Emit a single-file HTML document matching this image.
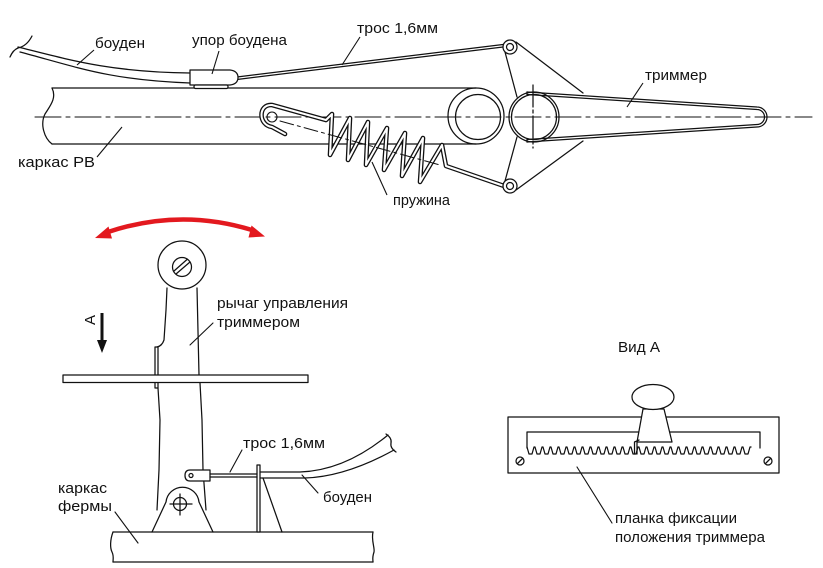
<!DOCTYPE html>
<html>
<head>
<meta charset="utf-8">
<style>
html,body{margin:0;padding:0;background:#fff;}
svg{display:block;}
text{font-family:"Liberation Sans","DejaVu Sans",sans-serif;font-size:15px;fill:#111;}
</style>
</head>
<body>
<svg width="823" height="568" viewBox="0 0 823 568" xmlns="http://www.w3.org/2000/svg">
<rect width="823" height="568" fill="#fff"/>

<!-- ============ TOP DRAWING ============ -->
<g fill="none" stroke="#111" stroke-width="1.25" stroke-linecap="round" stroke-linejoin="round">
  <line x1="35" y1="117" x2="812" y2="117" stroke-width="1.1" stroke-dasharray="26 5 4 5"/>
  <path d="M52,88 L476,88 M52,144 L476,144"/>
  <path d="M52,88 C57,98 50,106 45,114 C40,124 44,138 52,144"/>
  <circle cx="476" cy="116" r="28"/>
  <circle cx="478" cy="117" r="22.5"/>

  <circle cx="534" cy="117" r="25"/>
  <circle cx="534" cy="117" r="22.5"/>
  <line x1="533" y1="85" x2="533" y2="148" stroke-dasharray="22 3 3 3"/>
  <path d="M527,92 L757,107 A10,10 0 0 1 757,127 L527,142"/>
  <path d="M527,94.5 L757,109.5 A7.5,7.5 0 0 1 757,124.5 L527,139.5"/>
  <path d="M527,92 L527,94.5 M527,142 L527,139.5"/>

  <path d="M505,52 L517,97 M516,42 L583,93 M517,137 L505,181 M583,141 L516,190"/>

  <path d="M237,77 L503,44.5 M237,79.5 L503,47"/>

  <path d="M18,47 C70,60 110,72 190,73"/>
  <path d="M20,52 C80,68 110,80 190,83"/>
  <path d="M10,57 Q13,50 18,48 Q27,46 32,36"/>
  <path d="M190,70 L230,70 Q238,71 238,77.5 Q238,84 230,85 L190,85 Z" fill="#fff"/>
  <rect x="194" y="85" width="34" height="3.5" rx="1.5" fill="#fff"/>
</g>

<!-- hook + spring (double-line wire) -->
<g fill="none" stroke-linecap="round" stroke-linejoin="round">
  <path d="M285,134 L272,127 C258,125 258,104 272,105 L326,120 L332,114 L330,155 L350,118 L348,160 L368,122 L366,165 L387,128 L384,170 L405,133 L402,176 L423,138 L420,182 L442,145 L446,166 L507,187" stroke="#111" stroke-width="4.6"/>
  <path d="M285,134 L272,127 C258,125 258,104 272,105 L326,120 L332,114 L330,155 L350,118 L348,160 L368,122 L366,165 L387,128 L384,170 L405,133 L402,176 L423,138 L420,182 L442,145 L446,166 L507,187" stroke="#fff" stroke-width="2"/>
</g>
<g fill="none" stroke="#111" stroke-width="1.1" stroke-linecap="round">
  <circle cx="272" cy="117" r="5"/>
  <line x1="280" y1="121" x2="440" y2="165" stroke-dasharray="14 4 3 4" stroke-width="1"/>
</g>

<g fill="#fff" stroke="#111" stroke-width="1.25">
  <circle cx="510" cy="47" r="7"/>
  <circle cx="510" cy="47" r="3.5"/>
  <circle cx="510" cy="186" r="7"/>
  <circle cx="510" cy="186" r="3.5"/>
</g>

<g stroke="#111" stroke-width="1.1" fill="none">
  <path d="M77,65 L94,50"/>
  <path d="M212,74 L219,51"/>
  <path d="M342,65 L360,37"/>
  <path d="M627,107 L643,83"/>
  <path d="M97,157 L122,127"/>
  <path d="M372,162 L387,195"/>
</g>

<text x="95" y="48" textLength="50" lengthAdjust="spacingAndGlyphs">боуден</text>
<text x="192" y="45" textLength="95" lengthAdjust="spacingAndGlyphs">упор боудена</text>
<text x="357" y="33" textLength="81" lengthAdjust="spacingAndGlyphs">трос 1,6мм</text>
<text x="645" y="80" textLength="62" lengthAdjust="spacingAndGlyphs">триммер</text>
<text x="18" y="167" textLength="77" lengthAdjust="spacingAndGlyphs">каркас РВ</text>
<text x="393" y="205" textLength="57" lengthAdjust="spacingAndGlyphs">пружина</text>

<!-- ============ LOWER LEFT ============ -->
<path d="M108,232 Q180,208 252,230" stroke="#e3191f" stroke-width="4.5" fill="none"/>
<polygon points="95,238 112,238.5 108.5,226.5" fill="#e3191f"/>
<polygon points="265,236.5 248.5,237.5 251.5,225.5" fill="#e3191f"/>

<text transform="translate(95,320) rotate(-90)" text-anchor="middle">А</text>
<line x1="102" y1="313" x2="102" y2="342" stroke="#111" stroke-width="3"/>
<polygon points="97,340 107,340 102,353" fill="#111"/>

<g fill="none" stroke="#111" stroke-width="1.25" stroke-linecap="round" stroke-linejoin="round">
  <path d="M167,288 L166,310 L164,340 Q162,346 157,347"/>
  <path d="M197,288 L199,375"/>
  <path d="M155,347 L158,347 M155,347 L155,388 L158,388 M158,347 L158,388"/>
  <path d="M158,388 L160,420 L159,470 L157,510"/>
  <path d="M200,383 L202,420 L203,470 L206,510"/>
  <circle cx="182" cy="265" r="24" fill="#fff"/>
  <circle cx="182" cy="267" r="9.5"/>
  <path d="M176,274 L190,262 M174,271 L187,259.5"/>
  <rect x="63" y="375" width="245" height="7.5" fill="#fff"/>
  <path d="M152,532 L166,502 A16.6,16.6 0 0 1 199,502 L213,532"/>
  <circle cx="180" cy="504" r="6.5"/>
  <path d="M170,504 L192,504 M180,494 L180,515"/>
  <path d="M113,532 L373,532 M113,562 L373,562"/>
  <path d="M113,532 C110,540 110,548 112,552 C114,556 113,560 113,562"/>
  <path d="M373,532 C371,540 375,548 374,552 C372,558 373,560 373,562"/>
  <rect x="257" y="465" width="3" height="67" fill="#fff"/>
  <path d="M263,478 L282,532"/>
  <path d="M210,470 L190,470 Q185,470 185,475.5 Q185,481 190,481 L210,481 Z" fill="#fff"/>
  <circle cx="191" cy="475.5" r="2"/>
  <path d="M210,474 L257,474 M210,477 L257,477"/>
  <path d="M260,472 L300,472 C330,471 360,458 388,435"/>
  <path d="M260,478 L305,478 C335,477 365,466 394,450"/>
  <path d="M386,434 Q392,438 391,443 Q390,448 396,452"/>
  <path d="M190,345 L213,323" stroke-width="1.1"/>
  <path d="M230,472 L242,450" stroke-width="1.1"/>
  <path d="M302,475 L318,493" stroke-width="1.1"/>
  <path d="M115,512 L138,543" stroke-width="1.1"/>
</g>

<text x="217" y="308" textLength="131" lengthAdjust="spacingAndGlyphs">рычаг управления</text>
<text x="217" y="327" textLength="83" lengthAdjust="spacingAndGlyphs">триммером</text>
<text x="243" y="448" textLength="82" lengthAdjust="spacingAndGlyphs">трос 1,6мм</text>
<text x="323" y="502" textLength="49" lengthAdjust="spacingAndGlyphs">боуден</text>
<text x="58" y="493" textLength="49" lengthAdjust="spacingAndGlyphs">каркас</text>
<text x="58" y="511" textLength="54" lengthAdjust="spacingAndGlyphs">фермы</text>

<!-- ============ VIEW A ============ -->
<text x="618" y="352" textLength="42" lengthAdjust="spacingAndGlyphs">Вид А</text>
<g fill="none" stroke="#111" stroke-width="1.25" stroke-linecap="round" stroke-linejoin="round">
  <rect x="508" y="417" width="271" height="56"/>
  <path d="M527,448 L527,432 L760,432 L760,448"/>
  <path d="M527,447 l2,7 l3,0 l2,-7 l1,0 l2,7 l3,0 l2,-7 l1,0 l2,7 l3,0 l2,-7 l1,0 l2,7 l3,0 l2,-7 l1,0 l2,7 l3,0 l2,-7 l1,0 l2,7 l3,0 l2,-7 l1,0 l2,7 l3,0 l2,-7 l1,0 l2,7 l3,0 l2,-7 l1,0 l2,7 l3,0 l2,-7 l1,0 l2,7 l3,0 l2,-7 l1,0 l2,7 l3,0 l2,-7 l1,0 l2,7 l3,0 l2,-7 l1,0 l2,7 l3,0 l2,-7 l1,0 l2,7 l3,0 l2,-7 l1,0 l2,7 l3,0 l2,-7 l1,0 l2,7 l3,0 l2,-7 l1,0 l2,7 l3,0 l2,-7 l1,0 l2,7 l3,0 l2,-7 l1,0 l2,7 l3,0 l2,-7 l1,0 l2,7 l3,0 l2,-7 l1,0 l2,7 l3,0 l2,-7 l1,0 l2,7 l3,0 l2,-7 l1,0 l2,7 l3,0 l2,-7 l1,0 l2,7 l3,0 l2,-7 l1,0 l2,7 l3,0 l2,-7 l1,0 l2,7 l3,0 l2,-7 l1,0 l2,7 l3,0 l2,-7 l1,0 l2,7 l3,0 l2,-7 l1,0"/>
  <polygon points="643,409 664,409 672,442 637,442" fill="#fff"/>
  <path d="M639,440 L634.5,442 L634.5,454 M637,442 L637,454" />
  <ellipse cx="653" cy="397" rx="21" ry="12.5" fill="#fff"/>
  <circle cx="520" cy="461" r="4"/>
  <path d="M517.5,463.5 L522.5,458.5"/>
  <circle cx="768" cy="461" r="4"/>
  <path d="M765.5,463.5 L770.5,458.5"/>
  <path d="M577,467 L612,523" stroke-width="1.1"/>
</g>
<text x="615" y="523" textLength="122" lengthAdjust="spacingAndGlyphs">планка фиксации</text>
<text x="615" y="542" textLength="150" lengthAdjust="spacingAndGlyphs">положения триммера</text>
</svg>
</body>
</html>
